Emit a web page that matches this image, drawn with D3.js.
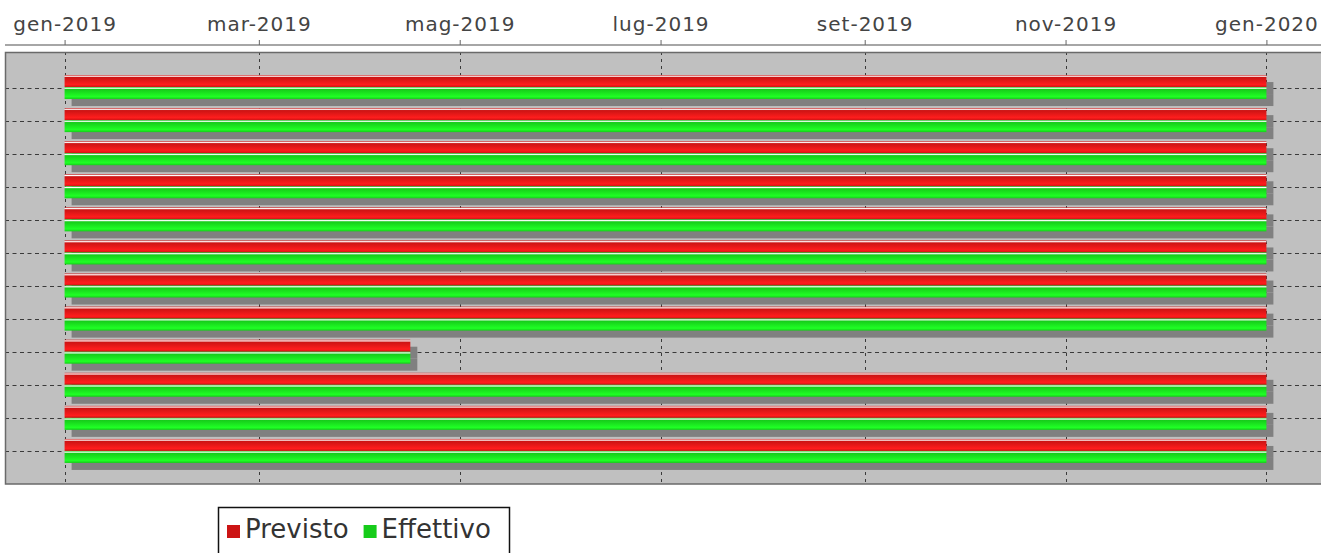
<!DOCTYPE html>
<html><head><meta charset="utf-8">
<script src="https://cdn.jsdelivr.net/npm/d3@7"></script>
<style>html,body{margin:0;padding:0;background:#fff;overflow:hidden}</style>
</head><body>
<svg id="chart" width="1321" height="553"></svg>
<script>
// ---- data ----
const tasks = ["Attività 1","Attività 2","Attività 3","Attività 4","Attività 5","Attività 6",
               "Attività 7","Attività 8","Attività 9","Attività 10","Attività 11","Attività 12"];
const seriesNames = ["Previsto","Effettivo"];
const seriesColors = ["#cc1414","#16cc1a"];
const previstoStart = ["2019-01-01","2019-01-01","2019-01-01","2019-01-01","2019-01-01","2019-01-01",
                       "2019-01-01","2019-01-01","2019-01-01","2019-01-01","2019-01-01","2019-01-01"];
const previstoEnd   = ["2020-01-01","2020-01-01","2020-01-01","2020-01-01","2020-01-01","2020-01-01",
                       "2020-01-01","2020-01-01","2019-04-16","2020-01-01","2020-01-01","2020-01-01"];
const effettivoStart = ["2019-01-01","2019-01-01","2019-01-01","2019-01-01","2019-01-01","2019-01-01",
                        "2019-01-01","2019-01-01","2019-01-01","2019-01-01","2019-01-01","2019-01-01"];
const effettivoEnd   = ["2020-01-01","2020-01-01","2020-01-01","2020-01-01","2020-01-01","2020-01-01",
                        "2020-01-01","2020-01-01","2019-04-16","2020-01-01","2020-01-01","2020-01-01"];
const tickDates = ["2019-01-01","2019-03-01","2019-05-01","2019-07-01","2019-09-01","2019-11-01","2020-01-01"];
const monthNames = ["gen","feb","mar","apr","mag","giu","lug","ago","set","ott","nov","dic"];

// ---- setup ----
const parse = d3.timeParse("%Y-%m-%d");
const starts = [previstoStart, effettivoStart];
const ends = [previstoEnd, effettivoEnd];
const rows = [];
seriesNames.forEach((s, si) => tasks.forEach((t, ti) => {
  rows.push({series: s, si, task: t, start: parse(starts[si][ti]), end: parse(ends[si][ti])});
}));

const svg = d3.select("#chart");
const W = 1321, H = 553;
const plotL = 5, plotT = 52, plotB = 484, plotR = 1330;

const dMin = d3.min(rows, d => d.start), dMax = d3.max(rows, d => d.end);
const span = dMax - dMin;
const x = d3.scaleTime()
  .domain([new Date(+dMin - 0.05 * span), new Date(+dMax + 0.05 * span)])
  .range([4.5, 1326.5]);
const y = d3.scaleBand().domain(tasks).range([71, 468]);
const bw = y.bandwidth();
const ys = d3.scaleBand().domain(seriesNames).range([bw / 2 - 12.5, bw / 2 + 11.5]);

const locale = d3.timeFormatLocale({
  dateTime: "%A %e %B %Y, %X", date: "%d/%m/%Y", time: "%H:%M:%S",
  periods: ["", ""], days: ["domenica","lunedì","martedì","mercoledì","giovedì","venerdì","sabato"],
  shortDays: ["dom","lun","mar","mer","gio","ven","sab"],
  months: ["gennaio","febbraio","marzo","aprile","maggio","giugno","luglio","agosto","settembre","ottobre","novembre","dicembre"],
  shortMonths: monthNames
});
const fmt = locale.format("%b-%Y");

// gradients (bar painter style)
const defs = svg.append("defs");
function brighter(c) {
  const r = d3.rgb(c);
  const f = v => (v === 0 ? 3 : Math.min(255, Math.round(v / 0.7)));
  return d3.rgb(f(r.r), f(r.g), f(r.b)).toString();
}
seriesColors.forEach((c, i) => {
  const g = defs.append("linearGradient").attr("id", "grad" + i)
    .attr("x1", 0).attr("y1", 0).attr("x2", 0).attr("y2", 1);
  const c1 = brighter(c);
  [[0, c], [0.10, "#ffffff"], [0.20, c], [0.80, c1], [1, c]].forEach(([o, col]) =>
    g.append("stop").attr("offset", o).attr("stop-color", col));
});
defs.append("clipPath").attr("id", "plotclip").append("rect")
  .attr("x", plotL).attr("y", plotT).attr("width", plotR - plotL).attr("height", plotB - plotT);

// plot background
svg.append("rect").attr("x", plotL).attr("y", plotT).attr("width", plotR - plotL).attr("height", plotB - plotT)
  .attr("fill", "#c0c0c0");

const tickVals = tickDates.map(parse);
const grid = svg.append("g").attr("clip-path", "url(#plotclip)");
// vertical date gridlines
grid.selectAll(".vg").data(tickVals).join("line")
  .attr("x1", d => Math.round(x(d)) + 0.5).attr("x2", d => Math.round(x(d)) + 0.5)
  .attr("y1", plotT).attr("y2", plotB)
  .attr("stroke", "#3a3a3a").attr("stroke-width", 1).attr("stroke-dasharray", "3,4");
// horizontal category gridlines
grid.selectAll(".hg").data(tasks).join("line")
  .attr("x1", plotL).attr("x2", plotR)
  .attr("y1", d => Math.round(y(d) + bw / 2) + 0.5).attr("y2", d => Math.round(y(d) + bw / 2) + 0.5)
  .attr("stroke", "#3a3a3a").attr("stroke-width", 1).attr("stroke-dasharray", "4,3.5");

// bars with shadows, series by series
const bars = svg.append("g").attr("clip-path", "url(#plotclip)");
const sh = 7;
seriesNames.forEach((s, si) => {
  const data = rows.filter(r => r.si === si);
  const g = bars.append("g");
  g.selectAll(".shadow").data(data).join("rect")
    .attr("x", d => x(d.start) + sh).attr("y", d => y(d.task) + ys(d.series) + sh)
    .attr("width", d => x(d.end) - x(d.start)).attr("height", ys.bandwidth())
    .attr("fill", "#808080");
  g.selectAll(".bar").data(data).join("rect")
    .attr("x", d => x(d.start)).attr("y", d => y(d.task) + ys(d.series))
    .attr("width", d => x(d.end) - x(d.start)).attr("height", ys.bandwidth())
    .attr("fill", "url(#grad" + si + ")");
});

// plot border
svg.append("rect").attr("x", plotL + 0.5).attr("y", plotT + 0.5)
  .attr("width", plotR - plotL).attr("height", plotB - plotT - 0.5)
  .attr("fill", "none").attr("stroke", "#6a6a6a").attr("stroke-width", 1.5);

// top date axis
const axis = d3.axisTop(x).tickValues(tickVals).tickFormat(fmt).tickSizeInner(5).tickSizeOuter(0).tickPadding(9);
const ag = svg.append("g").attr("transform", "translate(0,45)").call(axis);
ag.select(".domain").attr("stroke", "#888").attr("stroke-width", 1.5).attr("d", `M${plotL},0H${W}`);
ag.selectAll(".tick line").attr("stroke", "#666");
ag.selectAll(".tick text")
  .attr("font-family", "DejaVu Sans").attr("font-size", 20).attr("fill", "#444")
  .attr("letter-spacing", 1).attr("dy", 0);

// legend
const lg = svg.append("g");
lg.append("rect").attr("x", 218.5).attr("y", 507.5).attr("width", 291).attr("height", 60)
  .attr("fill", "#fff").attr("stroke", "#111").attr("stroke-width", 1.5);
let lx = 227;
seriesNames.forEach((s, i) => {
  lg.append("rect").attr("x", lx).attr("y", 525).attr("width", 13).attr("height", 13).attr("fill", seriesColors[i]);
  const t = lg.append("text").attr("x", lx + 18).attr("y", 538)
    .attr("font-family", "DejaVu Sans").attr("font-size", 26).attr("fill", "#333").text(s);
  lx = lx + 18 + t.node().getComputedTextLength() + 15;
});
</script>
</body></html>
